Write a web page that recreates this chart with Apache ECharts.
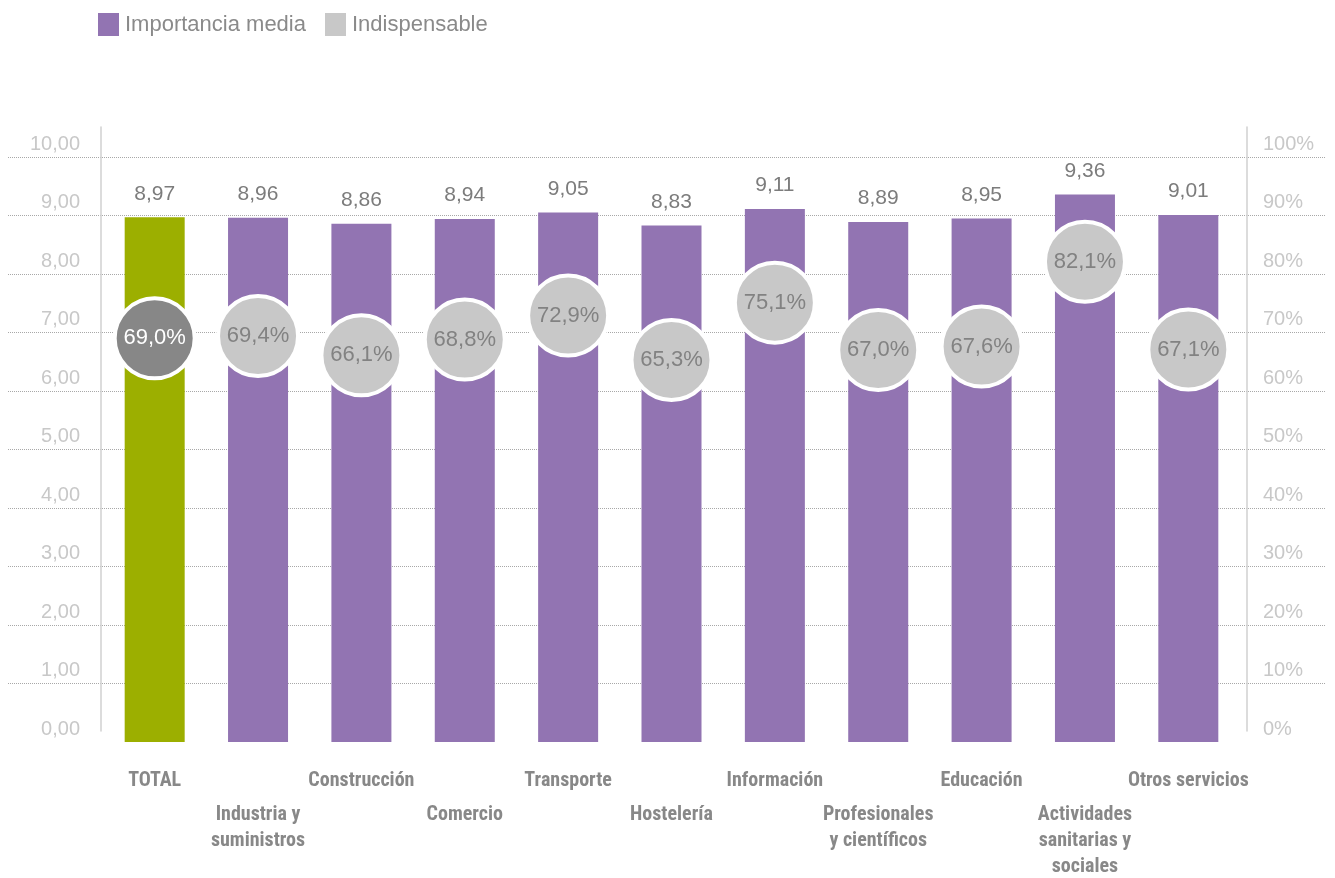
<!DOCTYPE html>
<html>
<head>
<meta charset="utf-8">
<script src="https://cdn.jsdelivr.net/npm/echarts@6/dist/echarts.min.js"></script>
<style>
html,body{margin:0;padding:0;background:#fff;}
#c{width:1335px;height:878px;}
</style>
</head>
<body>
<div id="c"></div>
<script>
const categories = ['TOTAL','Industria y\nsuministros','Construcción','Comercio','Transporte','Hostelería','Información','Profesionales\ny científicos','Educación','Actividades\nsanitarias y\nsociales','Otros servicios'];
const importanciaMedia = [8.97,8.96,8.86,8.94,9.05,8.83,9.11,8.89,8.95,9.36,9.01];
const indispensable = [69.0,69.4,66.1,68.8,72.9,65.3,75.1,67.0,67.6,82.1,67.1];
const leftTicks = [0,1,2,3,4,5,6,7,8,9,10];
const rightTicks = [0,10,20,30,40,50,60,70,80,90,100];

const FONT = '"Liberation Sans", Arial, Helvetica, sans-serif';
const NARROW = '"Liberation Sans Narrow", "Roboto Condensed", "DejaVu Sans Condensed", "Liberation Sans", sans-serif';
const PURPLE = '#9274b2';
const GREEN = '#9caf00';
const GREY = '#c8c8c8';

const chart = echarts.init(document.getElementById('c'), null, {renderer:'canvas'});
const fmt2 = v => v.toFixed(2).replace('.', ',');
const fmt1 = v => v.toFixed(1).replace('.', ',') + '%';

chart.setOption({
  animation:false,
  legend:{
    left:98, top:13, padding:0,
    itemWidth:21, itemHeight:23, itemGap:19,
    textStyle:{fontFamily:FONT, fontSize:22, color:'#8a8a8a', padding:[0,0,0,1]},
    itemStyle:{borderWidth:0},
    data:[{name:'Importancia media', icon:'rect'},{name:'Indispensable', icon:'rect'}]
  },
  grid:[
    {left:103, right:95, top:157, bottom:136, outerBoundsMode:'none', containLabel:false},
    {left:8, right:9, top:157, bottom:136, outerBoundsMode:'none', containLabel:false},
    {left:101, right:88, top:127, bottom:147, outerBoundsMode:'none', containLabel:false}
  ],
  xAxis:[
    {type:'category', gridIndex:0, data:categories, axisLine:{show:false}, axisTick:{show:false},
     axisLabel:{interval:(i)=>i%2===0, margin:26, fontFamily:NARROW, fontWeight:'bold', fontSize:20, color:'#888888', lineHeight:26}},
    {type:'category', gridIndex:0, data:categories, position:'bottom', axisLine:{show:false}, axisTick:{show:false},
     axisLabel:{interval:(i)=>i%2===1, margin:60, fontFamily:NARROW, fontWeight:'bold', fontSize:20, color:'#888888', lineHeight:26}},
    {type:'value', gridIndex:1, show:false, min:0, max:1},
    {type:'value', gridIndex:2, show:false, min:0, max:1}
  ],
  yAxis:[
    {type:'value', gridIndex:0, min:0, max:10, interval:1, position:'left',
     axisLine:{show:false}, axisTick:{show:false}, splitLine:{show:false},
     axisLabel:{margin:23, fontFamily:FONT, fontSize:20, color:GREY, verticalAlign:'bottom', padding:[0,0,3,0], formatter:v=>fmt2(v)}},
    {type:'value', gridIndex:0, min:0, max:100, interval:10, position:'right',
     axisLine:{show:false}, axisTick:{show:false}, splitLine:{show:false},
     axisLabel:{margin:23, fontFamily:FONT, fontSize:20, color:GREY, verticalAlign:'bottom', padding:[0,0,3,0], formatter:v=>v+'%'}},
    {type:'value', gridIndex:1, min:0, max:10, interval:1,
     axisLine:{show:false}, axisTick:{show:false}, axisLabel:{show:false},
     splitLine:{show:true, showMinLine:false, lineStyle:{type:'dotted', color:'#a8a8a8', width:1}}},
    {type:'value', gridIndex:2, min:0, max:1, position:'left', axisLine:{show:true, lineStyle:{color:'#d0d0d0', width:1.5}},
     axisTick:{show:false}, axisLabel:{show:false}, splitLine:{show:false}},
    {type:'value', gridIndex:2, min:0, max:1, position:'right', axisLine:{show:true, lineStyle:{color:'#d0d0d0', width:1.5}},
     axisTick:{show:false}, axisLabel:{show:false}, splitLine:{show:false}}
  ],
  series:[
    {name:'Importancia media', type:'bar', xAxisIndex:0, yAxisIndex:0, barWidth:60, z:2,
     itemStyle:{color:PURPLE},
     data: importanciaMedia.map((v,i)=> i===0 ? {value:v, itemStyle:{color:GREEN}} : v),
     label:{show:true, position:'top', distance:13, fontFamily:FONT, fontSize:21, color:'#7c7c7c', formatter:p=>fmt2(p.value)}},
    {name:'Indispensable', type:'scatter', xAxisIndex:0, yAxisIndex:1, symbol:'circle', symbolSize:80, z:5,
     itemStyle:{color:GREY, borderColor:'#fff', borderWidth:4, opacity:1},
     data: indispensable.map((v,i)=> i===0 ? {value:v, itemStyle:{color:'#878787'}, label:{color:'#fff'}} : v),
     label:{show:true, position:'inside', fontFamily:FONT, fontSize:22, color:'#828282', formatter:p=>fmt1(p.value)}}
  ]
});
</script>
</body>
</html>
